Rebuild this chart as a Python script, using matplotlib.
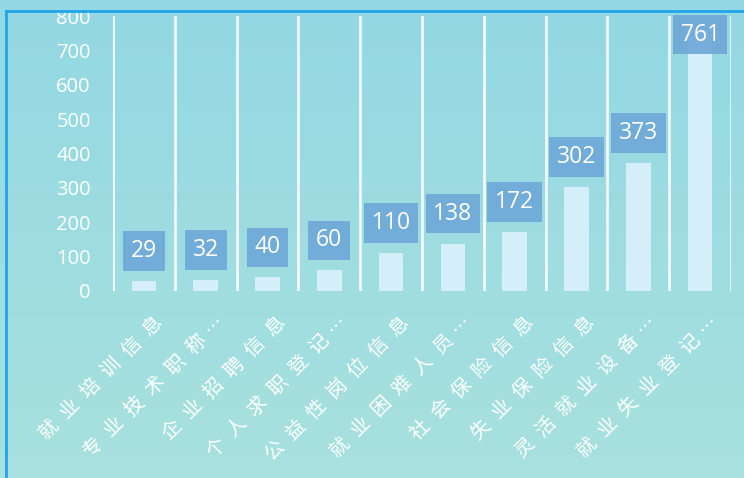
import numpy as np
import matplotlib.pyplot as plt
from matplotlib.colors import LinearSegmentedColormap
from matplotlib.transforms import ScaledTranslation

# data
categories = ['就业培训信息', '专业技术职称…', '企业招聘信息', '个人求职登记…', '公益性岗位信息',
              '就业困难人员…', '社会保险信息', '失业保险信息', '灵活就业设备…', '就业失业登记…']
values = [29, 32, 40, 60, 110, 138, 172, 302, 373, 761]
yticks = [0, 100, 200, 300, 400, 500, 600, 700, 800]

top_col = '#93d8e3'
bot_col = '#a8e1de'
bar_col = '#d4eff9'
box_col = '#6fa8d8'

W, H = 744, 478
fig = plt.figure(figsize=(W / 100, H / 100), dpi=100)

# gradient background
bg = fig.add_axes([0, 0, 1, 1], zorder=0)
cmap = LinearSegmentedColormap.from_list('bg', [top_col, bot_col])
bg.imshow(np.linspace(0, 1, 256).reshape(-1, 1), aspect='auto', cmap=cmap, extent=[0, 1, 0, 1])
bg.set_axis_off()

ax = fig.add_axes([113 / W, 1 - 291 / H, 618 / W, 275 / H], zorder=1)
ax.patch.set_alpha(0)
x = np.arange(len(values))
ax.bar(x, values, width=0.4, color=bar_col, zorder=2)
ax.set_xlim(-0.5, len(values) - 0.5)
ax.set_ylim(0, 800)
ax.set_yticks(yticks)
ax.set_xticks(x)
ax.set_xticks(np.arange(len(values) + 1) - 0.5, minor=True)
ax.grid(which='minor', axis='x', color='white', linewidth=1.8, zorder=1)
ax.tick_params(which='both', length=0)
ax.tick_params(axis='y', pad=16, labelcolor='white', labelsize=14.5)
for lab in ax.get_yticklabels():
    lab.set_family('Open Sans')
for s in ax.spines.values():
    s.set_visible(False)


def spaced(name):
    # widen the characters like the original, keep the ellipsis mid-height
    if name.endswith('…'):
        return '\u2002'.join(name[:-1]) + ' ···'
    return '\u2002'.join(name)


# x labels, rotated (DejaVu for spaces and dots, CJK glyphs from Noto)
ax.set_xticklabels([spaced(c) for c in categories], rotation=45, ha='right',
                   rotation_mode='anchor', color='white', fontsize=14,
                   family=['DejaVu Sans', 'Noto Sans CJK SC'])
ax.tick_params(axis='x', pad=16)
shift = ScaledTranslation(9 / 100, 0, fig.dpi_scale_trans)
for lab in ax.get_xticklabels():
    lab.set_transform(lab.get_transform() + shift)

# value boxes above bars
for xi, v in zip(x, values):
    ypos = min(v + 87, 746)
    ax.text(xi, ypos, str(v), ha='center', va='center', color='white', fontsize=16.5,
            family='Open Sans', zorder=4,
            bbox=dict(boxstyle='square,pad=0.34', fc=box_col, ec='none', alpha=0.92))

# top strip and blue frame
strip = fig.add_axes([0, 1 - 11 / H, 1, 11 / H], zorder=3)
strip.set_facecolor(top_col)
strip.set_xticks([])
strip.set_yticks([])
for s in strip.spines.values():
    s.set_visible(False)
fig.add_artist(plt.Line2D([6 / W, 6 / W], [0, 1 - 11 / H], color='#1ea5ea', lw=2, zorder=5))
fig.add_artist(plt.Line2D([6 / W, 1], [1 - 11 / H, 1 - 11 / H], color='#1ea5ea', lw=2, zorder=5))

fig.savefig('out.png', dpi=100)
